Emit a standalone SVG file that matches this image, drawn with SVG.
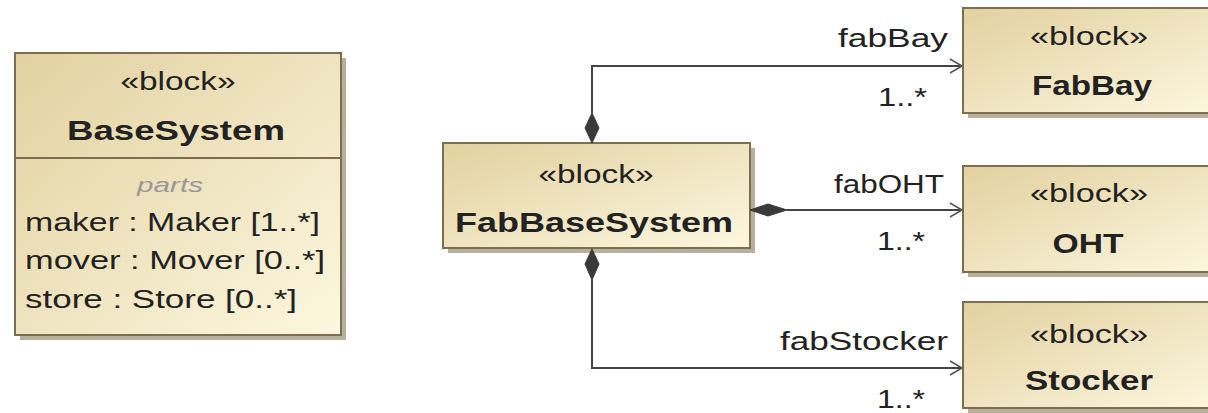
<svg xmlns="http://www.w3.org/2000/svg" width="1208" height="413" viewBox="0 0 1208 413">
<defs>
<linearGradient id="fill" x1="0" y1="0" x2="1" y2="1">
<stop offset="0" stop-color="#e2d1a0"/>
<stop offset="1" stop-color="#fcf7df"/>
</linearGradient>
<marker id="open" markerWidth="16" markerHeight="16" refX="14" refY="8" orient="auto" markerUnits="userSpaceOnUse">
<path d="M2,1 L14,8 L2,15" fill="none" stroke="#555" stroke-width="1.6"/>
</marker>
<style>
.box{fill:url(#fill);stroke:#7d6e4f;stroke-width:2}
.shadow{fill:#b7b09e}
.t{font-family:"Liberation Sans",Arial,sans-serif;fill:#222}
.st{font-size:25px;text-anchor:middle}
.nm{font-size:28px;font-weight:bold;text-anchor:middle}
.pt{font-size:25px}
.lb{font-size:25px;text-anchor:end}
.parts{font-size:21px;font-style:italic;fill:#999;text-anchor:middle}
.ln{fill:none;stroke:#444;stroke-width:2}
.dia{fill:#3a3a3a;stroke:#3a3a3a;stroke-width:1}
</style>
</defs>
<rect width="1208" height="413" fill="#fff"/>

<g id="BaseSystem">
<rect class="shadow" x="20" y="58" width="326" height="282"/>
<rect class="box" x="15" y="53" width="326" height="282"/>
<line x1="15" y1="158" x2="341" y2="158" stroke="#7d6e4f" stroke-width="2"/>
<text class="t st" x="178" y="90" textLength="115" lengthAdjust="spacingAndGlyphs">«block»</text>
<text class="t nm" x="176" y="140" textLength="218" lengthAdjust="spacingAndGlyphs">BaseSystem</text>
<text class="t parts" x="170" y="192" textLength="66" lengthAdjust="spacingAndGlyphs">parts</text>
<text class="t pt" x="25" y="231" textLength="295" lengthAdjust="spacingAndGlyphs">maker : Maker [1..*]</text>
<text class="t pt" x="25" y="269" textLength="300" lengthAdjust="spacingAndGlyphs">mover : Mover [0..*]</text>
<text class="t pt" x="25" y="308" textLength="272" lengthAdjust="spacingAndGlyphs">store : Store [0..*]</text>
</g>

<g id="FabBaseSystem">
<rect class="shadow" x="448" y="148" width="307" height="105"/>
<rect class="box" x="443" y="143" width="307" height="105"/>
<text class="t st" x="596" y="183" textLength="115" lengthAdjust="spacingAndGlyphs">«block»</text>
<text class="t nm" x="594" y="232" textLength="278" lengthAdjust="spacingAndGlyphs">FabBaseSystem</text>
</g>

<g id="FabBay">
<rect class="shadow" x="968" y="13" width="260" height="105"/>
<rect class="box" x="963" y="8" width="260" height="105"/>
<text class="t st" x="1089" y="45" textLength="118" lengthAdjust="spacingAndGlyphs">«block»</text>
<text class="t nm" x="1092" y="95" textLength="120" lengthAdjust="spacingAndGlyphs">FabBay</text>
</g>

<g id="OHT">
<rect class="shadow" x="968" y="171" width="260" height="106"/>
<rect class="box" x="963" y="166" width="260" height="106"/>
<text class="t st" x="1089" y="202" textLength="118" lengthAdjust="spacingAndGlyphs">«block»</text>
<text class="t nm" x="1088" y="253" textLength="71" lengthAdjust="spacingAndGlyphs">OHT</text>
</g>

<g id="Stocker">
<rect class="shadow" x="968" y="307" width="260" height="106"/>
<rect class="box" x="963" y="302" width="260" height="106"/>
<text class="t st" x="1089" y="343" textLength="118" lengthAdjust="spacingAndGlyphs">«block»</text>
<text class="t nm" x="1089" y="390" textLength="128" lengthAdjust="spacingAndGlyphs">Stocker</text>
</g>

<g id="connectors">
<path class="ln" d="M592,113 L592,66 L962,66" marker-end="url(#open)"/>
<path class="dia" d="M592,113 L599,128 L592,143 L585,128 Z"/>
<path class="ln" d="M787,210 L962,210" marker-end="url(#open)"/>
<path class="dia" d="M750,210 L768,204 L787,210 L768,216 Z"/>
<path class="ln" d="M592,280 L592,368 L962,368" marker-end="url(#open)"/>
<path class="dia" d="M592,249 L599,264 L592,280 L585,264 Z"/>
<text class="t lb" x="948" y="47" textLength="110" lengthAdjust="spacingAndGlyphs">fabBay</text>
<text class="t lb" x="927" y="106" textLength="49" lengthAdjust="spacingAndGlyphs">1..*</text>
<text class="t lb" x="944" y="193" textLength="110" lengthAdjust="spacingAndGlyphs">fabOHT</text>
<text class="t lb" x="925" y="250" textLength="48" lengthAdjust="spacingAndGlyphs">1..*</text>
<text class="t lb" x="948" y="350" textLength="168" lengthAdjust="spacingAndGlyphs">fabStocker</text>
<text class="t lb" x="925" y="408" textLength="48" lengthAdjust="spacingAndGlyphs">1..*</text>
</g>
</svg>
